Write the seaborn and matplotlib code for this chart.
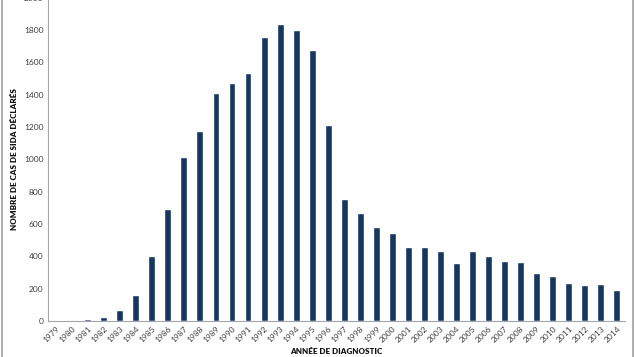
import numpy as np
import pandas as pd
import matplotlib
matplotlib.use('Agg')
import matplotlib.pyplot as plt
from matplotlib.lines import Line2D
import seaborn as sns

# donnees
annees = [str(a) for a in range(1979, 2015)]
cas = [0, 0, 10, 25, 66, 162,
       402, 692, 1012, 1177, 1409, 1471, 1533, 1755, 1836, 1802, 1675, 1212,
       755, 670, 583, 545, 458, 458, 431, 359, 435, 400, 373, 365,
       297, 276, 235, 223, 227, 190]
y_ticks = list(range(0, 2001, 200))

df = pd.DataFrame({'annee': annees, 'cas': cas})

sns.set_style('white')
plt.rcParams['font.family'] = ['Lato', 'DejaVu Sans']

fig = plt.figure(figsize=(6.35, 3.57), dpi=100)
ax = fig.add_axes([0.075, 0.1008, 0.909, 0.906])

sns.barplot(data=df, x='annee', y='cas', color='#17375E', width=0.43,
            saturation=1, ax=ax)

ax.set_ylim(0, 2000)
ax.set_yticks(y_ticks)
ax.set_xlim(-0.5, len(annees) - 0.5)
ax.tick_params(axis='both', length=0, labelsize=6, labelcolor='#404040', pad=3)
plt.setp(ax.get_xticklabels(), rotation=45, ha='right', rotation_mode='anchor')

ax.set_ylabel('NOMBRE DE CAS DE SIDA DÉCLARÉS', fontsize=5.8, fontweight='heavy',
              color='#111111', labelpad=4)
ax.set_xlabel('ANNÉE DE DIAGNOSTIC', fontsize=5.8, fontweight='heavy',
              color='#111111', labelpad=3)

for s in ['top', 'right']:
    ax.spines[s].set_visible(False)
for s in ['left', 'bottom']:
    ax.spines[s].set_color('#a6a6a6')
    ax.spines[s].set_linewidth(0.8)

# bords gris du cadre (gauche et droite seulement, l'image est rognee)
for xb in [1.5 / 635, 633 / 635]:
    fig.add_artist(Line2D([xb, xb], [0, 1], transform=fig.transFigure,
                          color='#a0a0a0', linewidth=1.2))

fig.savefig('out.png', dpi=100)
